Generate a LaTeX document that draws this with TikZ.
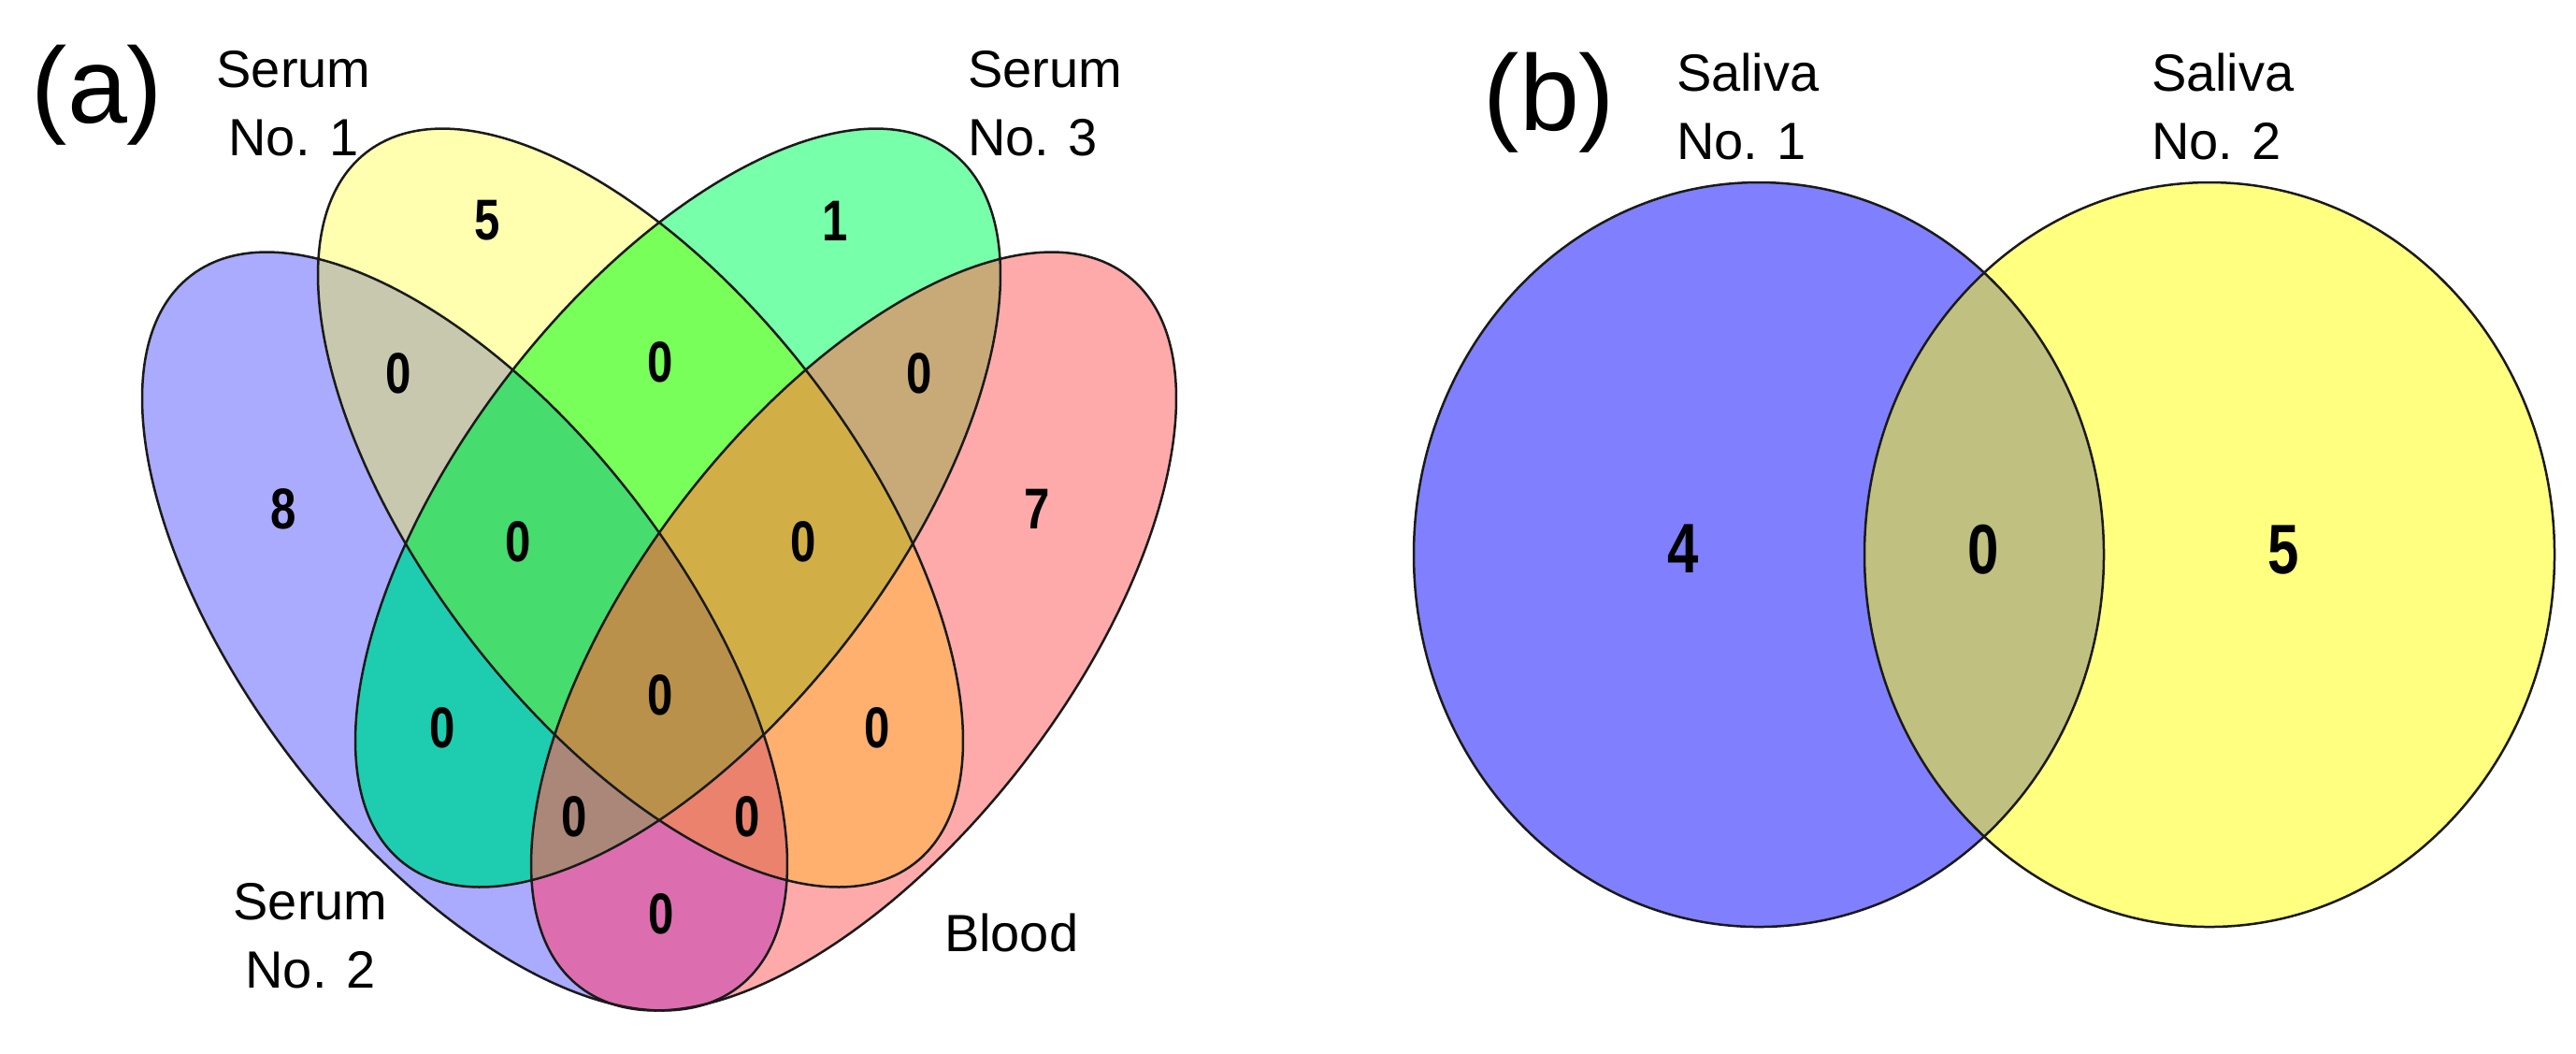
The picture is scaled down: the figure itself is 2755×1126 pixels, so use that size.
\documentclass[tikz,border=0pt]{standalone}
\usepackage{fontspec}
\setmainfont{Liberation Sans}
\newfontfamily\numfont{Liberation Sans}[FakeStretch=0.8]
% region colours, panel (a)
\definecolor{cB}{HTML}{AAAAFF}
\definecolor{cY}{HTML}{FFFFAF}
\definecolor{cG}{HTML}{78FFAA}
\definecolor{cR}{HTML}{FFAAAA}
\definecolor{cBY}{HTML}{C8C8AF}
\definecolor{cBG}{HTML}{1ECDAF}
\definecolor{cBR}{HTML}{DC6EAF}
\definecolor{cYG}{HTML}{78FF5A}
\definecolor{cYR}{HTML}{FFAF6E}
\definecolor{cGR}{HTML}{C8AA78}
\definecolor{cBYG}{HTML}{46DC6E}
\definecolor{cBYR}{HTML}{EB826E}
\definecolor{cBGR}{HTML}{AA8778}
\definecolor{cYGR}{HTML}{D2AF46}
\definecolor{cALL}{HTML}{B9914B}
% panel (b)
\definecolor{sB}{HTML}{8080FF}
\definecolor{sY}{HTML}{FFFF80}
\definecolor{sBY}{HTML}{C0C080}
\definecolor{edge}{HTML}{1A1A1A}
\newcommand\clipB{\clip[eB] (497,675) ellipse [x radius=96pt, y radius=46pt];}
\newcommand\clipY{\clip[eY] (685,543) ellipse [x radius=96pt, y radius=46pt];}
\newcommand\clipG{\clip[eG] (725,543) ellipse [x radius=96pt, y radius=46pt];}
\newcommand\clipR{\clip[eR] (913,675) ellipse [x radius=96pt, y radius=46pt];}
\newcommand\vpaint[2]{\begin{scope}#1\fill[#2] (0,0) rectangle (1420,1126);\end{scope}}
\begin{document}
\begin{tikzpicture}[x=0.2pt, y=-0.2pt,
  eB/.style={rotate around={-52.4:(497,675)}},
  eY/.style={rotate around={-52.4:(685,543)}},
  eG/.style={rotate around={52.4:(725,543)}},
  eR/.style={rotate around={52.4:(913,675)}},
  outline/.style={draw=edge, line width=0.5pt},
  lab/.style={inner sep=0pt, font=\fontsize{11.2}{14.6}\selectfont},
  panel/.style={inner sep=0pt, font=\fontsize{23}{23}\selectfont},
  num/.style={inner sep=0pt, font=\numfont\bfseries\fontsize{12.3}{12.3}\selectfont},
  bignum/.style={inner sep=0pt, font=\numfont\bfseries\fontsize{15}{15}\selectfont}]
\useasboundingbox (0,0) rectangle (2755,1126);
\fill[white] (0,0) rectangle (2755,1126);

% ---------- panel (a): four-set Venn ----------
% singles
\vpaint{\clipB}{cB}
\vpaint{\clipY}{cY}
\vpaint{\clipG}{cG}
\vpaint{\clipR}{cR}
% pairs
\vpaint{\clipB\clipY}{cBY}
\vpaint{\clipB\clipG}{cBG}
\vpaint{\clipB\clipR}{cBR}
\vpaint{\clipY\clipG}{cYG}
\vpaint{\clipY\clipR}{cYR}
\vpaint{\clipG\clipR}{cGR}
% triples
\vpaint{\clipB\clipY\clipG}{cBYG}
\vpaint{\clipB\clipY\clipR}{cBYR}
\vpaint{\clipB\clipG\clipR}{cBGR}
\vpaint{\clipY\clipG\clipR}{cYGR}
% all four
\vpaint{\clipB\clipY\clipG\clipR}{cALL}
% outlines
\draw[outline, eB] (497,675) ellipse [x radius=96pt, y radius=46pt];
\draw[outline, eY] (685,543) ellipse [x radius=96pt, y radius=46pt];
\draw[outline, eG] (725,543) ellipse [x radius=96pt, y radius=46pt];
\draw[outline, eR] (913,675) ellipse [x radius=96pt, y radius=46pt];

% counts
\node[num] (n5)    at (521,236) {5};
\node[num] (n1)    at (893,236) {1};
\node[num] (nBY)   at (426,399) {0};
\node[num] (nYG)   at (706,387) {0};
\node[num] (nGR)   at (983,399) {0};
\node[num] (n8)    at (303,544) {8};
\node[num] (n7)    at (1109,544) {7};
\node[num] (nBYG)  at (554,579) {0};
\node[num] (nYGR)  at (859,579) {0};
\node[num] (nALL)  at (706,743) {0};
\node[num] (nBG)   at (473,778) {0};
\node[num] (nYR)   at (938,778) {0};
\node[num] (nBGR)  at (614,873) {0};
\node[num] (nBYR)  at (799,873) {0};
\node[num] (nBR)   at (707,977) {0};

% labels
\node[panel] (pa) at (104,102) {(a)};
\node[lab, anchor=north, align=center] (s1) at (314,53) {Serum\\No. 1};
\node[lab, anchor=north west, align=left] (s3) at (1034,53) {Serum\\No. 3};
\node[lab, anchor=north, align=center] (s2) at (332,943) {Serum\\No. 2};
\node[lab, anchor=north west] (bl) at (1009,976) {Blood};

% ---------- panel (b): two-set Venn ----------
\fill[sB] (1881,593) ellipse [x radius=73.8pt, y radius=79.6pt];
\fill[sY] (2363,593) ellipse [x radius=73.8pt, y radius=79.6pt];
\begin{scope}
  \clip (1881,593) ellipse [x radius=73.8pt, y radius=79.6pt];
  \fill[sBY] (2363,593) ellipse [x radius=73.8pt, y radius=79.6pt];
\end{scope}
\draw[outline] (1881,593) ellipse [x radius=73.8pt, y radius=79.6pt];
\draw[outline] (2363,593) ellipse [x radius=73.8pt, y radius=79.6pt];

\node[bignum] (b4) at (1800,587) {4};
\node[bignum] (b0) at (2121,588) {0};
\node[bignum] (b5) at (2442,588) {5};

\node[panel] (pb) at (1657,110) {(b)};
\node[lab, anchor=north west, align=left] (sa1) at (1792,56) {Saliva\\No. 1};
\node[lab, anchor=north west, align=left] (sa2) at (2300,56) {Saliva\\No. 2};
\end{tikzpicture}
\end{document}
